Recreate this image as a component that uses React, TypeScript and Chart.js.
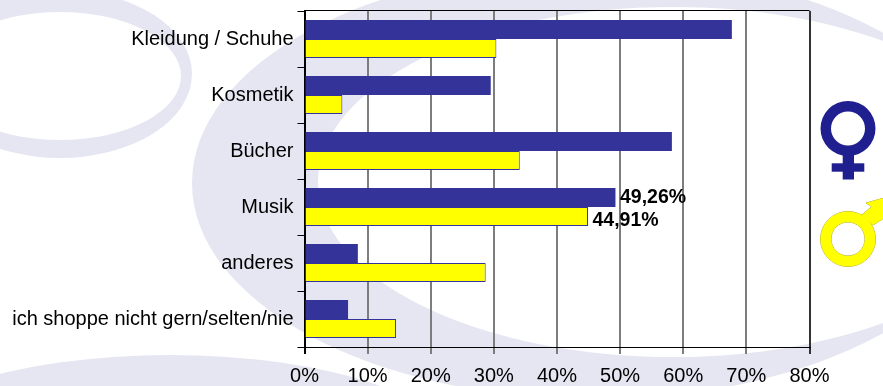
import React, { useEffect, useRef } from "react";
import { Chart, registerables } from "chart.js";

Chart.register(...registerables);

const categories = [
  "Kleidung / Schuhe",
  "Kosmetik",
  "Bücher",
  "Musik",
  "anderes",
  "ich shoppe nicht gern/selten/nie",
];
const frauen = [67.7, 29.5, 58.2, 49.26, 8.45, 6.9];
const maenner = [30.4, 6.0, 34.1, 44.91, 28.7, 14.5];
const labelledCategories = ["Musik"];

const FONT = '"Liberation Sans", Arial, sans-serif';
const NAVY = "#333399";
const YELLOW = "#FFFF00";
const WASH = "#E6E6F2";

// Frame line along the top of the plot and value captions next to selected bars.
const finishing = {
  id: "finishing",
  afterDatasetsDraw(chart: any) {
    const { ctx, chartArea } = chart;
    ctx.save();
    ctx.strokeStyle = "#000";
    ctx.lineWidth = 1;
    ctx.beginPath();
    ctx.moveTo(chartArea.left, chartArea.top - 0.5);
    ctx.lineTo(chartArea.right, chartArea.top - 0.5);
    ctx.stroke();
    ctx.fillStyle = "#000";
    ctx.font = `bold 19.5px ${FONT}`;
    ctx.textAlign = "left";
    ctx.textBaseline = "middle";
    chart.data.datasets.forEach((ds: any, d: number) => {
      const bars = chart.getDatasetMeta(d).data;
      categories.forEach((c, i) => {
        if (!labelledCategories.includes(c)) return;
        const text = ds.data[i].toFixed(2).replace(".", ",") + "%";
        ctx.fillText(text, bars[i].x + 4.5, bars[i].y + (d === 0 ? 0.5 : 4.5));
      });
    });
    ctx.restore();
  },
};

const MALE_ARROW = "M861.7 215L871.7 206.7L866 203L883 198.3L884 218L873 225Z";
const MALE_RING =
  "M820.5 239a27.5 27.5 0 1 0 55 0a27.5 27.5 0 1 0 -55 0Z M831 239a17 17 0 1 0 34 0a17 17 0 1 0 -34 0Z";

function Backdrop() {
  return (
    <svg
      width={883}
      height={386}
      style={{ position: "absolute", left: 0, top: 0 }}
    >
      <rect width={883} height={386} fill="#fff" />
      <path
        fillRule="evenodd"
        fill={WASH}
        d="M-72 74a132 84 0 1 0 264 0a132 84 0 1 0 -264 0Z M-61 76a121 64 0 1 0 242 0a121 64 0 1 0 -242 0Z"
      />
      <path
        fillRule="evenodd"
        fill={WASH}
        d="M192 183a402 216 0 1 0 804 0a402 216 0 1 0 -804 0Z M318 182a355 175 0 1 0 710 0a355 175 0 1 0 -710 0Z"
      />
      <ellipse cx={170} cy={455} rx={290} ry={100} fill={WASH} />
      <g fill="#1F1F8F">
        <path
          fillRule="evenodd"
          d="M820.5 128.5a27.5 27.5 0 1 0 55 0a27.5 27.5 0 1 0 -55 0Z M831 128.5a17 17 0 1 0 34 0a17 17 0 1 0 -34 0Z"
        />
        <rect x={842.7} y={153} width={11.3} height={26.5} />
        <rect x={831.7} y={163.3} width={32.6} height={8.4} />
      </g>
      <g fill="none" stroke="#B5AC30" strokeWidth={1}>
        <path d={MALE_ARROW} />
        <path d={MALE_RING} />
      </g>
      <g fill="#FFFF00" fillRule="evenodd">
        <path d={MALE_ARROW} />
        <path d={MALE_RING} />
      </g>
    </svg>
  );
}

export default function App() {
  const ref = useRef<HTMLCanvasElement>(null);

  useEffect(() => {
    const chart = new Chart(ref.current!, {
      type: "bar",
      plugins: [finishing],
      data: {
        labels: categories,
        datasets: [
          {
            label: "Frauen",
            data: frauen,
            backgroundColor: NAVY,
            borderWidth: 0,
            inflateAmount: 0,
            barPercentage: 1,
            categoryPercentage: 38 / 56,
          },
          {
            label: "Männer",
            data: maenner,
            backgroundColor: YELLOW,
            borderColor: NAVY,
            borderWidth: 1,
            inflateAmount: 0,
            barPercentage: 1,
            categoryPercentage: 38 / 56,
          },
        ],
      },
      options: {
        indexAxis: "y",
        animation: false,
        responsive: false,
        layout: { padding: { top: 11, right: 73.5, left: 0, bottom: 0 } },
        plugins: { legend: { display: false }, tooltip: { enabled: false } },
        scales: {
          x: {
            min: 0,
            max: 80,
            afterFit: (s: any) => {
              s.height = 39;
              s.paddingLeft = 0;
              s.paddingRight = 0;
            },
            ticks: {
              stepSize: 10,
              maxRotation: 0,
              padding: 10.5,
              color: "#000",
              font: { family: FONT, size: 20 },
              callback: (v: any) => `${v}%`,
            },
            grid: {
              color: (c: any) =>
                c.tick && c.tick.value === 80
                  ? "#333"
                  : c.tick && c.tick.value === 0
                  ? "#000"
                  : "#7d7d7d",
              lineWidth: 2,
              tickLength: 7,
            },
            border: { color: "#000", width: 1 },
          },
          y: {
            afterFit: (s: any) => {
              s.width = 304.5;
              s.paddingTop = 0;
              s.paddingBottom = 0;
            },
            ticks: {
              padding: 4,
              labelOffset: 0.5,
              color: "#000",
              font: { family: FONT, size: 20 },
            },
            grid: {
              drawOnChartArea: false,
              color: "#000",
              tickLength: 7,
            },
            border: { color: "#000", width: 1.5 },
          },
        },
      },
    } as any);
    return () => chart.destroy();
  }, []);

  return (
    <div style={{ position: "fixed", left: 0, top: 0, width: 883, height: 386, overflow: "hidden" }}>
      <Backdrop />
      <canvas
        ref={ref}
        width={883}
        height={386}
        style={{ position: "absolute", left: 0, top: 0, width: 883, height: 386 }}
      />
    </div>
  );
}
